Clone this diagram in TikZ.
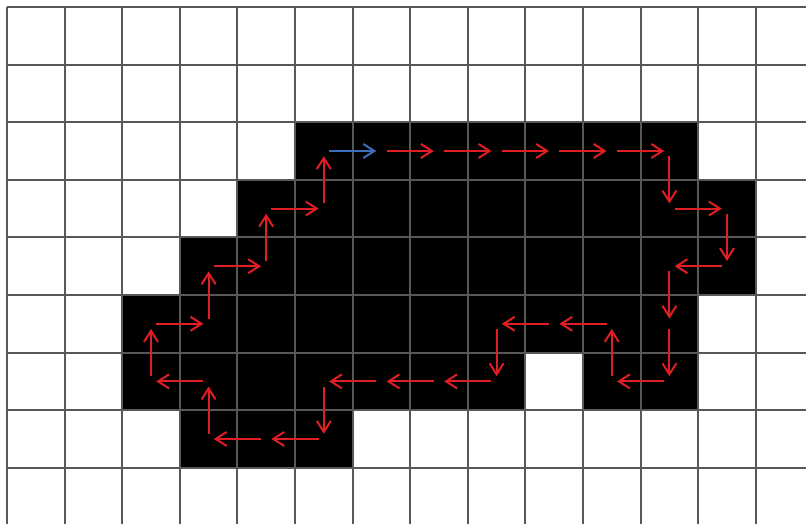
\documentclass[tikz,border=0pt]{standalone}
\usetikzlibrary{arrows.meta}
\definecolor{gridc}{RGB}{88,88,88}
\definecolor{arrred}{RGB}{225,30,35}
\definecolor{arrblue}{RGB}{60,110,190}
\begin{document}
\begin{tikzpicture}[x=28.8pt,y=-28.8pt,
  gridline/.style={draw=gridc,line width=1pt},
  cellfill/.style={fill=black},
  chainarrow/.style={draw=arrred,line width=1pt,-{Straight Barb[length=5.5pt,width=7pt]},shorten <=2.6pt,shorten >=2.6pt},
  startarrow/.style={chainarrow,draw=arrblue}]
\useasboundingbox (-0.1215,-0.1215) rectangle (13.872,8.976);
\fill[white] (-0.1215,-0.1215) rectangle (13.872,8.976);
\clip (-0.1215,-0.1215) rectangle (13.872,8.976);
% object cells
\fill[cellfill] (5,2) rectangle (12,3);
\fill[cellfill] (4,3) rectangle (13,4);
\fill[cellfill] (3,4) rectangle (13,5);
\fill[cellfill] (2,5) rectangle (12,6);
\fill[cellfill] (2,6) rectangle (9,7);
\fill[cellfill] (10,6) rectangle (12,7);
\fill[cellfill] (3,7) rectangle (6,8);
% grid
\foreach \i in {0,...,14} \draw[gridline] (\i,0) -- (\i,9.3);
\foreach \j in {0,...,9} \draw[gridline] (0,\j) -- (14.3,\j);
% cell centres
\foreach \i in {0,...,13} \foreach \j in {0,...,8} \coordinate (c\i-\j) at (\i+0.5,\j+0.5);
% chain code
\draw[startarrow] (c5-2) -- (c6-2);
\foreach \a/\b in {6-2/7-2,7-2/8-2,8-2/9-2,9-2/10-2,10-2/11-2,11-2/11-3,11-3/12-3,12-3/12-4,12-4/11-4,11-4/11-5,11-5/11-6,11-6/10-6,10-6/10-5,10-5/9-5,9-5/8-5,8-5/8-6,8-6/7-6,7-6/6-6,6-6/5-6,5-6/5-7,5-7/4-7,4-7/3-7,3-7/3-6,3-6/2-6,2-6/2-5,2-5/3-5,3-5/3-4,3-4/4-4,4-4/4-3,4-3/5-3,5-3/5-2}
  \draw[chainarrow] (c\a) -- (c\b);
\end{tikzpicture}
\end{document}
